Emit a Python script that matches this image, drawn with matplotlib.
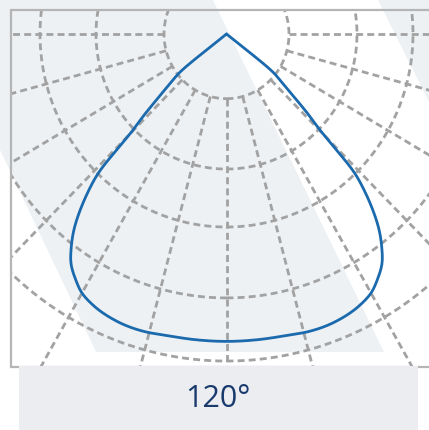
import numpy as np
import matplotlib
matplotlib.use("Agg")
import matplotlib.pyplot as plt
from matplotlib.patches import Polygon, Rectangle

plt.rcParams['lines.scale_dashes'] = False

# ---- data -------------------------------------------------------------
# beam label
beam_label = "120°"
# polar intensity profile (symmetric), angle from nadir in degrees
angles_deg = [0, 6, 12, 16, 20, 24, 27, 30, 32.5, 35, 37, 39, 41, 43, 43.8, 44.4, 45.2, 46.5, 48, 50, 51.7, 52.5]
intensity = [297, 297, 297.5, 299, 299, 297, 294, 289, 281, 271, 258, 242, 221, 196, 182, 160, 132, 113, 91, 72, 58, 0]
# polar grid rings and spokes
ring_values = [62.5, 130.5, 186.5, 255, 316]
spoke_angles = [-90, -75, -60, -45, -30, -15, 0, 15, 30, 45, 60, 75, 90]

# ---- layout / style ---------------------------------------------------
W, H = 429, 430
CX, CY = 226.5, 34.0        # polar origin (pixels)
SX, SY = 1.0, 1.035         # scale of one unit in x / y
FRAME = (11, 10, 440, 367)  # left, top, right, bottom
GRID_C = '#a2a2a2'
CURVE_C = '#1b6aae'
BG_GRAY = '#eef1f4'

fig = plt.figure(figsize=(W / 100, H / 100), dpi=100)
fig.patch.set_facecolor('white')
ax = fig.add_axes([0, 0, 1, 1])
ax.set_xlim(0, W)
ax.set_ylim(H, 0)
ax.axis('off')

# background stripes
ax.add_patch(Polygon([(0, 0), (213, 0), (384, 352), (96, 352), (0, 150)],
                     closed=True, facecolor=BG_GRAY, edgecolor='none', zorder=0))
ax.add_patch(Polygon([(378, 0), (440, 0), (440, 124)],
                     closed=True, facecolor=BG_GRAY, edgecolor='none', zorder=0))

clip = Rectangle((FRAME[0], FRAME[1]), FRAME[2] - FRAME[0], FRAME[3] - FRAME[1],
                 transform=ax.transData, facecolor='none', edgecolor='none')
ax.add_patch(clip)

def to_xy(theta_deg, r):
    t = np.radians(theta_deg)
    return CX + np.asarray(r) * np.sin(t) * SX, CY + np.asarray(r) * np.cos(t) * SY

dash = (0, (5, 3))
# rings
phi = np.linspace(0, 360, 721)
for rv in ring_values:
    x, y = to_xy(phi, rv)
    ln, = ax.plot(x, y, color=GRID_C, lw=2.0, ls=dash, zorder=1)
    ln.set_clip_path(clip)
# spokes
for a in spoke_angles:
    x, y = to_xy(np.array([a, a]), np.array([ring_values[0], 600]))
    ln, = ax.plot(x, y, color=GRID_C, lw=2.0, ls=dash, zorder=1)
    ln.set_clip_path(clip)

# curve: mirror the profile, smooth with centripetal Catmull-Rom
th = np.array(angles_deg, float)
rr = np.array(intensity, float)
full_th = np.concatenate([-th[::-1], th[1:]])
full_r = np.concatenate([rr[::-1], rr[1:]])
px, py = to_xy(full_th, full_r)
P = np.column_stack([px, py])

def catmull_rom_centripetal(P, n=20, alpha=0.5):
    P = np.vstack([2 * P[0] - P[1], P, 2 * P[-1] - P[-2]])
    out = []
    for i in range(1, len(P) - 2):
        p0, p1, p2, p3 = P[i - 1], P[i], P[i + 1], P[i + 2]
        t0 = 0.0
        t1 = t0 + max(np.linalg.norm(p1 - p0), 1e-6) ** alpha
        t2 = t1 + max(np.linalg.norm(p2 - p1), 1e-6) ** alpha
        t3 = t2 + max(np.linalg.norm(p3 - p2), 1e-6) ** alpha
        t = np.linspace(t1, t2, n, endpoint=False)[:, None]
        a1 = (t1 - t) / (t1 - t0) * p0 + (t - t0) / (t1 - t0) * p1
        a2 = (t2 - t) / (t2 - t1) * p1 + (t - t1) / (t2 - t1) * p2
        a3 = (t3 - t) / (t3 - t2) * p2 + (t - t2) / (t3 - t2) * p3
        b1 = (t2 - t) / (t2 - t0) * a1 + (t - t0) / (t2 - t0) * a2
        b2 = (t3 - t) / (t3 - t1) * a2 + (t - t1) / (t3 - t1) * a3
        c = (t2 - t) / (t2 - t1) * b1 + (t - t1) / (t2 - t1) * b2
        out.append(c)
    out.append(P[-2][None, :])
    return np.vstack(out)

S = catmull_rom_centripetal(P)
ax.plot(S[:, 0], S[:, 1], color=CURVE_C, lw=2.0, zorder=3,
        solid_joinstyle='round', solid_capstyle='round')

# frame
ax.plot([FRAME[2], FRAME[0], FRAME[0], FRAME[2]],
        [FRAME[1], FRAME[1], FRAME[3], FRAME[3]],
        color='#b5b5b5', lw=1.6, zorder=4, solid_joinstyle='miter')

# caption box
ax.add_patch(Rectangle((19, 366), 399, 70, facecolor='#ebedf0', edgecolor='none', zorder=5))
ax.text(218, 399, beam_label, ha='center', va='center', fontsize=22,
        family=['Open Sans', 'DejaVu Sans'], color='#1a3a6e', zorder=6)

fig.savefig('out.png', dpi=100, facecolor=fig.get_facecolor())
